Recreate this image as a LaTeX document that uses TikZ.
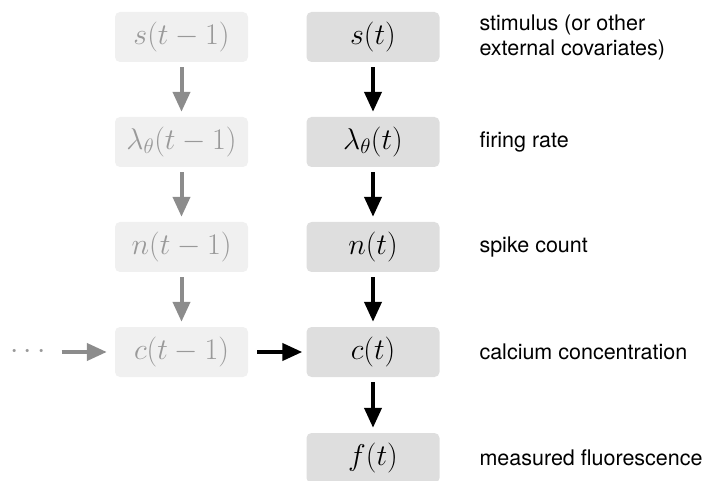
\RequirePackage{fix-cm}
\documentclass[tikz,border=0pt]{standalone}
\usepackage{fontspec}
\setsansfont{TeX Gyre Heros}
\usetikzlibrary{arrows.meta}

\begin{document}
\begin{tikzpicture}[
    x=1pt, y=1pt,
    past/.style={
        rounded corners=5pt,
        fill=black!6,
        text=black!40,
        minimum width=133pt,
        minimum height=50pt,
        font=\fontsize{30}{36}\selectfont
    },
    now/.style={
        past,
        fill=black!13,
        text=black
    },
    desc/.style={
        anchor=west,
        align=left,
        font=\sffamily\fontsize{21.5}{25}\selectfont
    },
    link/.style={
        -{Triangle[length=20pt,width=17pt]},
        line width=4pt,
        shorten <=5pt, shorten >=5pt
    },
    pastlink/.style={
        link,
        draw=black!45
    }
]
\useasboundingbox (0,0) rectangle (707,-481);

% Previous time step (faded)
\foreach \r/\y/\v in {s/37/s, lam/142/\lambda_\theta, n/247/n, c/352/c} {
    \node[past] (\r0) at (181.5,-\y) {$\v(t-1)$};
}

% Current time step
\foreach \r/\y/\v in {s/37/s, lam/142/\lambda_\theta, n/247/n, c/352/c, f/458/f} {
    \node[now] (\r1) at (373,-\y) {$\v(t)$};
}

% Descriptions
\foreach \r/\t in {s/{stimulus (or other\\external covariates)}, lam/{firing rate},
                   n/{spike count}, c/{calcium concentration},
                   f/{measured fluorescence}} {
    \node[desc] (d\r) at (476,0 |- \r1) {\t};
}

% Arrows down each column
\foreach \a/\b in {s/lam, lam/n, n/c} {
    \draw[pastlink] (\a0) -- (\b0);
    \draw[link] (\a1) -- (\b1);
}
\draw[link] (c1) -- (f1);

% Calcium carried over in time
\node[text=black!40, inner sep=0, font=\fontsize{30}{36}\selectfont]
    (dots) at (28,-352) {$\cdots$};
\draw[pastlink, shorten <=16pt, shorten >=8pt] (dots) -- (c0);
\draw[link, shorten <=9pt, shorten >=4pt] (c0) -- (c1);
\end{tikzpicture}
\end{document}
